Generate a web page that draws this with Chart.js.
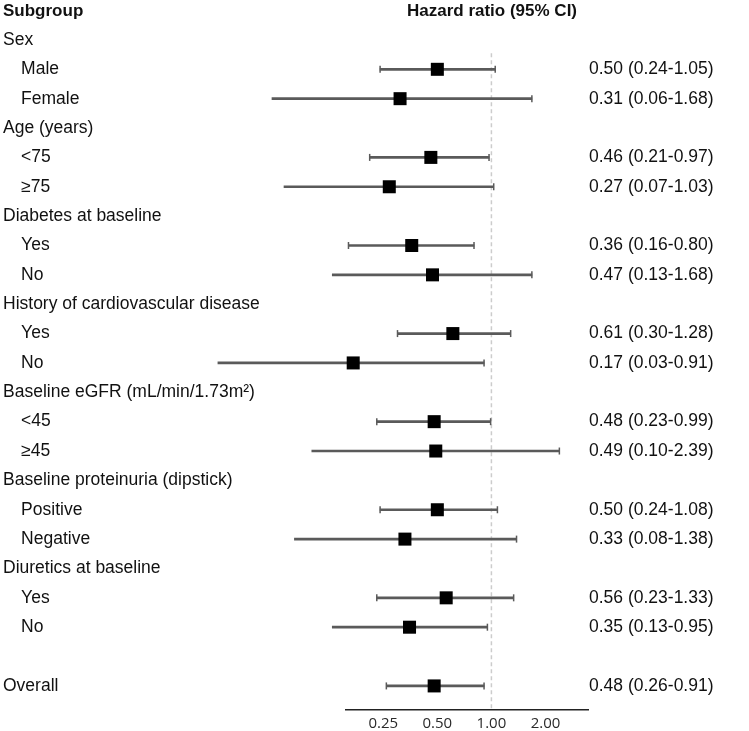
<!DOCTYPE html>
<html lang="en">
<head>
  <meta charset="UTF-8" />
  <title>Hazard ratio by subgroup</title>
  <script src="https://cdn.jsdelivr.net/npm/chart.js"></script>
  <style>
    body {
      margin: 0;
      background: #fff;
      font-family: 'Liberation Sans', Arial, sans-serif;
    }
    .wrap {
      position: relative;
      width: 749px;
      height: 731px;
    }
    canvas {
      position: absolute;
      left: 0;
      top: 0;
    }
    .head {
      position: absolute;
      top: 1px;
      font-size: 17px;
      font-weight: bold;
      color: #111;
      white-space: nowrap;
    }
    #headSub { left: 3px; }
    #headHr { left: 392px; width: 200px; text-align: center; }
  </style>
</head>
<body>
  <div class="wrap">
    <canvas id="forest" width="749" height="731"></canvas>
    <div class="head" id="headSub">Subgroup</div>
    <div class="head" id="headHr">Hazard ratio (95% CI)</div>
  </div>

  <script>
    // one entry per row, top to bottom (null = heading / spacer row)
    const rowLabels = [
      'Sex', 'Male', 'Female',
      'Age (years)', '<75', '≥75',
      'Diabetes at baseline', 'Yes', 'No',
      'History of cardiovascular disease', 'Yes', 'No',
      'Baseline eGFR (mL/min/1.73m²)', '<45', '≥45',
      'Baseline proteinuria (dipstick)', 'Positive', 'Negative',
      'Diuretics at baseline', 'Yes', 'No',
      '', 'Overall'
    ];
    const rowIndent = [0,1,1, 0,1,1, 0,1,1, 0,1,1, 0,1,1, 0,1,1, 0,1,1, 0,0];
    const hr     = [null,0.50,0.31, null,0.46,0.27, null,0.36,0.47, null,0.61,0.17, null,0.48,0.49, null,0.50,0.33, null,0.56,0.35, null,0.48];
    const ciLow  = [null,0.24,0.06, null,0.21,0.07, null,0.16,0.13, null,0.30,0.03, null,0.23,0.10, null,0.24,0.08, null,0.23,0.13, null,0.26];
    const ciHigh = [null,1.05,1.68, null,0.97,1.03, null,0.80,1.68, null,1.28,0.91, null,0.99,2.39, null,1.08,1.38, null,1.33,0.95, null,0.91];
    const xTicks = [0.25, 0.5, 1, 2];
    const refValue = 1;

    const X_MIN = 0.155, X_MAX = 3.45;
    const Y_MIN = -1.02, Y_MAX = 22.82;
    const FONT = "'Liberation Sans', Arial, sans-serif";

    const rows = rowLabels.map((_, i) => i);
    const withData = rows.filter(i => hr[i] !== null);

    const fmt = v => v.toFixed(2);
    const rightLabel = i => hr[i] === null ? '' : `${fmt(hr[i])} (${fmt(ciLow[i])}-${fmt(ciHigh[i])})`;
    const leftLabel = i => (rowIndent[i] ? '   \u2009' : '') + rowLabels[i];

    const rowTicks = scale => { scale.ticks = rows.map(i => ({ value: i })); };

    const refLine = {
      id: 'refLine',
      beforeDatasetsDraw(chart) {
        const { ctx, chartArea, scales: { x, y } } = chart;
        const px = x.getPixelForValue(refValue);
        ctx.save();
        ctx.strokeStyle = '#cccccc';
        ctx.lineWidth = 1.5;
        ctx.setLineDash([4, 3]);
        ctx.beginPath();
        ctx.moveTo(px, y.getPixelForValue(0.45));
        ctx.lineTo(px, chartArea.bottom);
        ctx.stroke();
        ctx.restore();
      }
    };

    new Chart(document.getElementById('forest'), {
      type: 'bar',
      data: {
        datasets: [
          {
            type: 'bar',
            indexAxis: 'y',
            order: 3,
            data: withData.map(i => ({ x: [ciLow[i], ciHigh[i]], y: i })),
            backgroundColor: '#5a5a5a',
            barThickness: 2,
            clip: false,
            yAxisID: 'y'
          },
          {
            type: 'scatter',
            order: 2,
            data: withData.flatMap(i => [{ x: ciLow[i], y: i }, { x: ciHigh[i], y: i }]),
            pointStyle: 'line',
            rotation: 90,
            pointRadius: 3.5,
            borderColor: '#5a5a5a',
            borderWidth: 1.5,
            clip: false,
            yAxisID: 'y'
          },
          {
            type: 'scatter',
            order: 1,
            data: withData.map(i => ({ x: hr[i], y: i })),
            pointStyle: 'rect',
            pointRadius: 9.2,
            backgroundColor: '#000',
            borderWidth: 0,
            clip: false,
            yAxisID: 'y'
          }
        ]
      },
      options: {
        responsive: false,
        animation: false,
        events: [],
        indexAxis: 'y',
        layout: { padding: { top: 10, left: 3, right: 0, bottom: 0 } },
        plugins: { legend: { display: false }, tooltip: { enabled: false } },
        scales: {
          x: {
            type: 'logarithmic',
            min: X_MIN,
            max: X_MAX,
            bounds: 'data',
            offset: false,
            grid: { display: false, drawTicks: false },
            border: { display: true, color: '#222', width: 1.5 },
            afterBuildTicks: s => { s.ticks = xTicks.map(v => ({ value: v })); },
            ticks: {
              autoSkip: false,
              maxRotation: 0,
              padding: 5,
              color: '#2a2a2a',
              font: { family: "'Open Sans', sans-serif", size: 15 },
              callback: v => Number(v).toFixed(2)
            },
            afterFit: s => { s.height = 21; s.paddingLeft = 0; s.paddingRight = 0; }
          },
          y: {
            type: 'linear',
            position: 'left',
            reverse: true,
            offset: false,
            bounds: 'data',
            min: Y_MIN,
            max: Y_MAX,
            grid: { display: false, drawTicks: false },
            border: { display: false },
            afterBuildTicks: rowTicks,
            ticks: {
              autoSkip: false,
              crossAlign: 'far',
              padding: 0,
              color: '#111',
              font: { family: FONT, size: 17.5 },
              callback: v => leftLabel(v)
            },
            afterFit: s => { s.width = 343; s.paddingTop = 0; s.paddingBottom = 0; }
          },
          yRight: {
            type: 'linear',
            display: true,
            position: 'right',
            reverse: true,
            offset: false,
            bounds: 'data',
            min: Y_MIN,
            max: Y_MAX,
            grid: { display: false, drawTicks: false },
            border: { display: false },
            afterBuildTicks: rowTicks,
            ticks: {
              autoSkip: false,
              crossAlign: 'near',
              padding: 1,
              color: '#111',
              font: { family: FONT, size: 17.5 },
              callback: v => rightLabel(v)
            },
            afterFit: s => { s.width = 161; s.paddingTop = 0; s.paddingBottom = 0; }
          }
        }
      },
      plugins: [refLine]
    });
  </script>
</body>
</html>
